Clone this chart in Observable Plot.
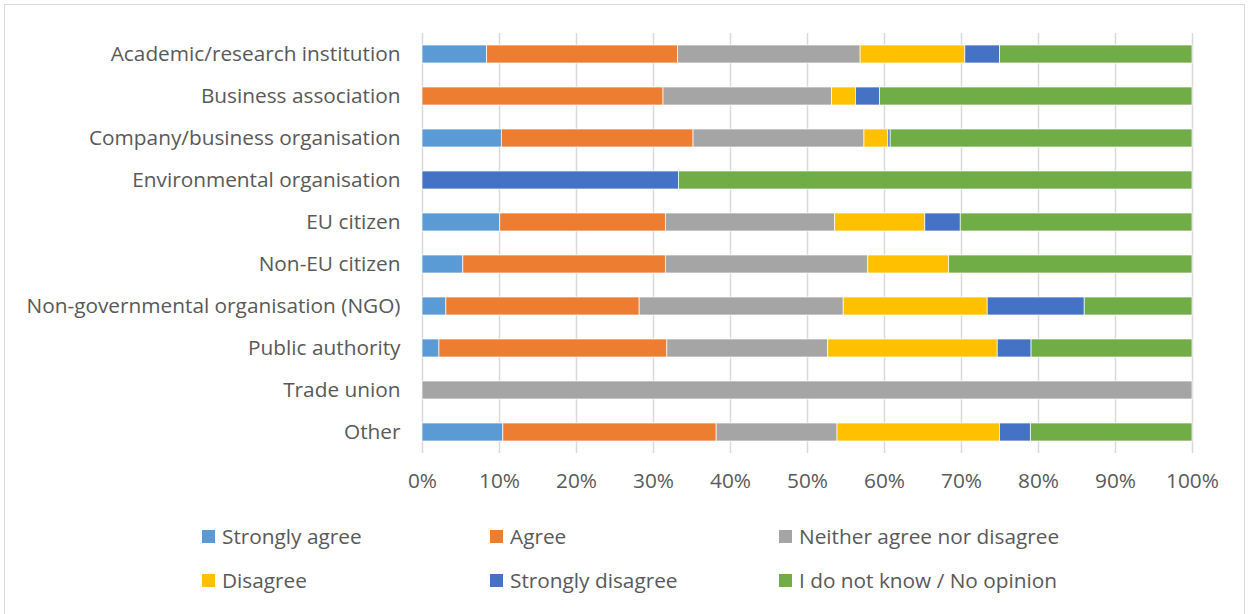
<!DOCTYPE html>
<html>
<head>
<meta charset="utf-8">
<script src="https://cdn.jsdelivr.net/npm/d3@7"></script>
<script src="https://cdn.jsdelivr.net/npm/@observablehq/plot@0.6"></script>
<style>
  html, body { margin: 0; padding: 0; background: #fff; }
  #wrap { position: relative; width: 1248px; height: 614px; overflow: hidden; font-family: "Open Sans", Lato, sans-serif; }
  #frame { position: absolute; left: 4px; top: 4px; width: 1241px; height: 616px; border: 1px solid #d9d9d9; box-sizing: border-box; }
  #chart { position: absolute; left: 0; top: 0; }
  .leg { position: absolute; display: flex; align-items: center; font-size: 20.8px; color: #595959; white-space: nowrap; }
  .sw { width: 13px; height: 13px; margin-right: 7px; }
</style>
</head>
<body>
<div id="wrap">
  <div id="frame"></div>
  <div id="chart"></div>
  <div id="legend"></div>
</div>
<script>
const categories = [
  "Academic/research institution",
  "Business association",
  "Company/business organisation",
  "Environmental organisation",
  "EU citizen",
  "Non-EU citizen",
  "Non-governmental organisation (NGO)",
  "Public authority",
  "Trade union",
  "Other"
];
const responses = ["Strongly agree", "Agree", "Neither agree nor disagree", "Disagree", "Strongly disagree", "I do not know / No opinion"];
const colors = ["#5B9BD5", "#ED7D31", "#A5A5A5", "#FFC000", "#4472C4", "#70AD47"];

// shares (%) per category, in the order of `responses`
const stronglyAgree    = [8.4, 0, 10.3, 0, 10.1, 5.3, 3.1, 2.2, 0, 10.5];
const agree            = [24.8, 31.3, 24.9, 0, 21.5, 26.3, 25.1, 29.6, 0, 27.7];
const neither          = [23.7, 21.9, 22.2, 0, 22.0, 26.3, 26.5, 20.9, 100, 15.7];
const disagree         = [13.6, 3.1, 3.1, 0, 11.7, 10.5, 18.7, 22.0, 0, 21.1];
const stronglyDisagree = [4.5, 3.1, 0.3, 33.3, 4.6, 0, 12.6, 4.4, 0, 4.0];
const noOpinion        = [25.0, 40.6, 39.2, 66.7, 30.1, 31.6, 14.0, 20.9, 0, 21.0];

const xTicks = [0, 0.1, 0.2, 0.3, 0.4, 0.5, 0.6, 0.7, 0.8, 0.9, 1.0];

const series = [stronglyAgree, agree, neither, disagree, stronglyDisagree, noOpinion];
const rows = [];
categories.forEach((c, i) => {
  const tot = series.reduce((s, arr) => s + arr[i], 0);
  responses.forEach((r, j) => {
    rows.push({category: c, response: r, value: series[j][i] / tot});
  });
});

const chart = Plot.plot({
  width: 1248,
  height: 506,
  marginTop: 33,
  marginBottom: 53,
  marginLeft: 422,
  marginRight: 56,
  style: {fontFamily: "'Open Sans', Lato, sans-serif", fontSize: "20.8px", color: "#595959", background: "transparent"},
  x: {domain: [0, 1], ticks: xTicks, tickFormat: d3.format(".0%"), label: null, tickSize: 0, tickPadding: 20},
  y: {domain: categories, label: null, tickSize: 0, tickPadding: 22, paddingInner: 0.57, paddingOuter: 0.285},
  color: {domain: responses, range: colors},
  marks: [
    Plot.gridX(xTicks, {stroke: "#d9d9d9", strokeOpacity: 1, strokeWidth: 1.5}),
    Plot.barX(rows, Plot.stackX({x: "value", y: "category", fill: "response", order: responses, stroke: "white", strokeWidth: 0.7}))
  ]
});
document.getElementById("chart").appendChild(chart);

const legendPos = [[202, 536], [490, 536], [779, 536], [202, 580], [490, 580], [779, 580]];
const legend = document.getElementById("legend");
responses.forEach((r, i) => {
  const d = document.createElement("div");
  d.className = "leg";
  d.style.left = legendPos[i][0] + "px";
  d.style.top = (legendPos[i][1] - 13) + "px";
  d.style.height = "26px";
  d.innerHTML = `<span class="sw" style="background:${colors[i]}"></span><span>${r}</span>`;
  legend.appendChild(d);
});
</script>
</body>
</html>
